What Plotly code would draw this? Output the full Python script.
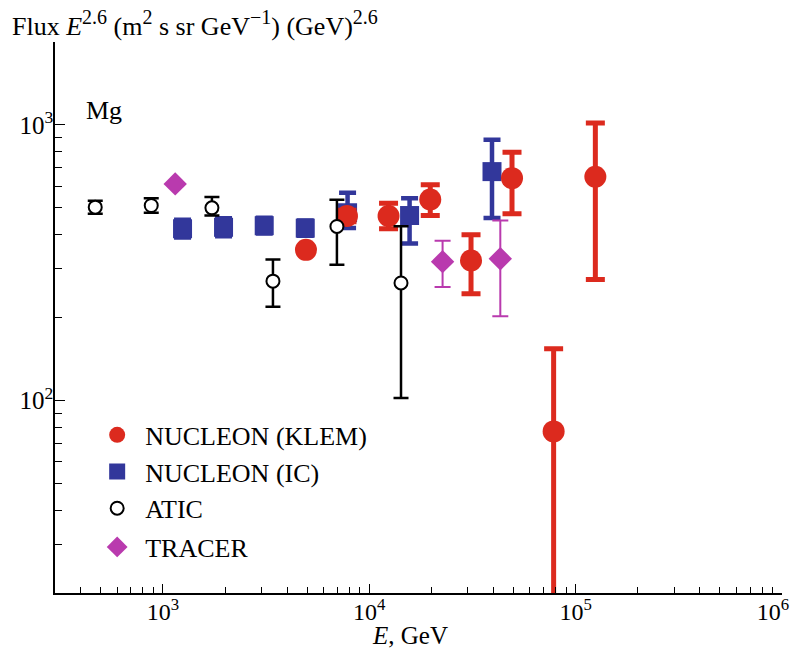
import plotly.graph_objects as go
import numpy as np

# ---------------- data ----------------
klem_E = [4934, 7797, 12400, 19750, 31120, 49170, 78230, 124600]
klem_F = [352, 467, 467, 536, 322, 641, 77.2, 649]
klem_up = [360, 490, 520, 607, 399, 796, 154, 1017]
klem_lo = [345, 445, 420, 469, 244, 476, 5, 275]

ic_E = [1245, 1967, 3097, 4895, 7850, 15680, 39330]
ic_F = [420, 425, 431, 422, 480, 469, 677]
ic_up = [453, 458, 460, 450, 567, 542, 884]
ic_lo = [390, 394, 404, 396, 423, 371, 459]

atic_E = [470, 878, 1728, 3414, 6970, 14250]
atic_F = [503, 510, 500, 271, 428, 267]
atic_up = [531, 542, 547, 325, 535, 429]
atic_lo = [476, 480, 469, 219, 311, 102]

tracer_E = [1147, 22660, 43150]
tracer_F = [611, 319, 327]
tracer_up = [620, 380, 450]
tracer_lo = [600, 258, 202]

x_tickvals = [1e3, 1e4, 1e5, 1e6]
x_ticktext = ["10<sup>3</sup>", "10<sup>4</sup>", "10<sup>5</sup>",
              "10<sup>6</sup>\u00a0\u00a0\u00a0"]
y_tickvals = [1e2, 1e3]
y_ticktext = ["10<sup>2</sup>", "10<sup>3</sup>"]

FONT = "Liberation Serif"
RED = "#DC2A1E"
BLUE = "#32379B"
MAG = "#B93AAE"


def err(vals, up, lo):
    return (dict(type="data", symmetric=False,
                 array=[u - v for u, v in zip(up, vals)],
                 arrayminus=[v - l for v, l in zip(vals, lo)]))


fig = go.Figure()

e = err(ic_F, ic_up, ic_lo)
e.update(color=BLUE, thickness=4.5, width=8.5)
fig.add_trace(go.Scatter(x=ic_E, y=ic_F, mode="markers", name="NUCLEON (IC)",
                         legend="legend2",
                         marker=dict(symbol="square", size=19, color=BLUE),
                         error_y=e))

e = err(klem_F, klem_up, klem_lo)
e.update(color=RED, thickness=5, width=9.5)
fig.add_trace(go.Scatter(x=klem_E, y=klem_F, mode="markers", name="NUCLEON (KLEM)",
                         legend="legend",
                         marker=dict(symbol="circle", size=22, color=RED),
                         error_y=e))

e = err(tracer_F, tracer_up, tracer_lo)
e.update(color=MAG, thickness=2, width=8)
fig.add_trace(go.Scatter(x=tracer_E, y=tracer_F, mode="markers", name="TRACER",
                         legend="legend4",
                         marker=dict(symbol="diamond", size=18, color=MAG),
                         error_y=e))

e = err(atic_F, atic_up, atic_lo)
e.update(color="black", thickness=2.5, width=7.5)
fig.add_trace(go.Scatter(x=atic_E, y=atic_F, mode="markers", name="ATIC",
                         legend="legend3",
                         marker=dict(symbol="circle", size=13, color="white",
                                     line=dict(color="black", width=2)),
                         error_y=e))

x_minor = [m * 10 ** d for d in (2, 3, 4, 5) for m in range(2, 10) if m * 10 ** d >= 300]
y_minor = [m * 10 ** d for d in (1, 2, 3) for m in range(2, 10) if 20 <= m * 10 ** d <= 2000]


def leg(ypos):
    return dict(x=0.047, y=ypos, xanchor="left", yanchor="middle",
                bgcolor="rgba(0,0,0,0)", font=dict(size=26, family=FONT),
                itemwidth=46, itemsizing="trace")


SUP = '<sup><span style="font-size:20px">{}</span></sup>'
title_txt = ("Flux <i>E</i>" + SUP.format("2.6") + " (m" + SUP.format("2")
             + " s sr GeV" + SUP.format("\u22121") + ") (GeV)" + SUP.format("2.6"))

fig.update_layout(
    width=790, height=645,
    margin=dict(l=47, r=16, t=34, b=60, autoexpand=False),
    paper_bgcolor="white", plot_bgcolor="white",
    font=dict(family=FONT, size=23, color="black"),
    showlegend=True,
    legend=leg(0.2868),
    legend2=leg(0.2202),
    legend3=leg(0.1537),
    legend4=leg(0.0835),
    xaxis=dict(type="log", range=[np.log10(300), 6], automargin=False,
               tickmode="array", tickvals=x_tickvals, ticktext=x_ticktext,
               ticks="inside", ticklen=9, tickwidth=1.3, tickcolor="black",
               showline=True, linecolor="black", linewidth=1.6,
               showgrid=False, zeroline=False, mirror=False,
               tickfont=dict(size=24, family=FONT), ticklabelstandoff=-4,
               ticklabeloverflow="allow",
               minor=dict(tickmode="array", tickvals=x_minor, ticks="inside",
                          ticklen=6, tickwidth=1.2, tickcolor="black", showgrid=False)),
    yaxis=dict(type="log", range=[np.log10(20), np.log10(2000)], automargin=False,
               tickmode="array", tickvals=y_tickvals, ticktext=y_ticktext,
               ticks="inside", ticklen=10, tickwidth=1.3, tickcolor="black",
               showline=True, linecolor="black", linewidth=1.6,
               showgrid=False, zeroline=False, mirror=False,
               tickfont=dict(size=25, family=FONT), ticklabelstandoff=-5,
               minor=dict(tickmode="array", tickvals=y_minor, ticks="inside",
                          ticklen=7, tickwidth=1.2, tickcolor="black", showgrid=False)),
    annotations=[
        dict(text=title_txt,
             xref="paper", yref="paper", x=-0.0618, y=1.034,
             xanchor="left", yanchor="middle", showarrow=False,
             font=dict(size=26, family=FONT)),
        dict(text="Mg", xref="paper", yref="paper", x=0.0399, y=0.8748,
             xanchor="left", yanchor="middle", showarrow=False,
             font=dict(size=26, family=FONT)),
        dict(text="<i>E</i>, GeV", xref="paper", yref="paper", x=0.488, y=-0.078,
             xanchor="center", yanchor="middle", showarrow=False,
             font=dict(size=25, family=FONT)),
    ],
)

fig.write_html("out.html")
